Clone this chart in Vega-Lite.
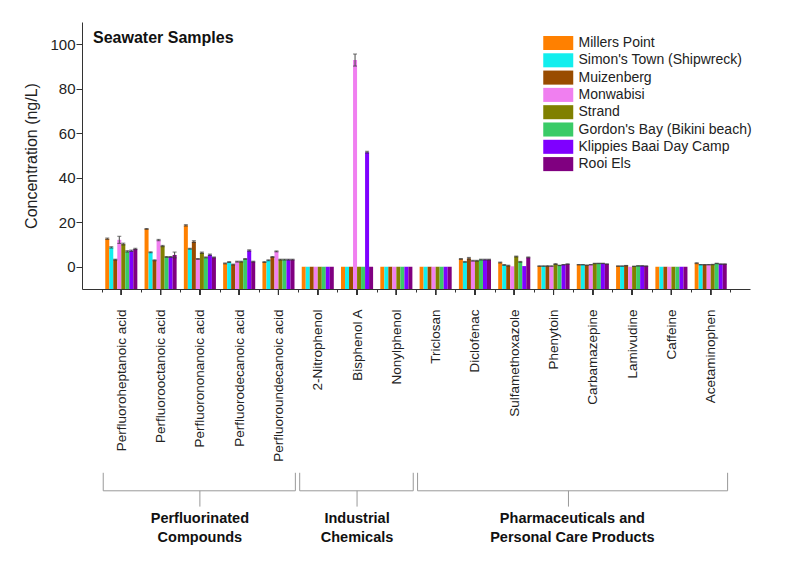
{
  "$schema": "https://vega.github.io/schema/vega-lite/v6.json",
  "width": 668,
  "height": 267,
  "autosize": {"type": "none"},
  "padding": {"left": 82, "top": 22, "right": 50, "bottom": 272},
  "background": "white",
  "config": {
    "view": {"stroke": null},
    "font": "Liberation Sans",
    "axis": {"grid": false, "domainColor": "#333", "tickColor": "#333", "labelColor": "#222", "titleColor": "#222", "labelFont": "Liberation Sans", "titleFont": "Liberation Sans"}
  },
  "title": {
    "text": "Seawater Samples",
    "anchor": "start",
    "frame": "group",
    "orient": "top",
    "offset": 0,
    "dx": 11,
    "dy": 37,
    "baseline": "alphabetic",
    "fontSize": 16,
    "fontWeight": "bold",
    "font": "Liberation Sans",
    "color": "#111"
  },
  "datasets": {
    "conc": [
      {"compound": "Perfluoroheptanoic acid", "site": "Millers Point", "value": 12.6, "err": 0.3},
      {"compound": "Perfluoroheptanoic acid", "site": "Simon's Town (Shipwreck)", "value": 8.7, "err": 0.3},
      {"compound": "Perfluoroheptanoic acid", "site": "Muizenberg", "value": 3.2, "err": 0.2},
      {"compound": "Perfluoroheptanoic acid", "site": "Monwabisi", "value": 12.1, "err": 1.6},
      {"compound": "Perfluoroheptanoic acid", "site": "Strand", "value": 10.2, "err": 0.4},
      {"compound": "Perfluoroheptanoic acid", "site": "Gordon's Bay (Bikini beach)", "value": 6.9, "err": 0.3},
      {"compound": "Perfluoroheptanoic acid", "site": "Klippies Baai Day Camp", "value": 7.2, "err": 0.3},
      {"compound": "Perfluoroheptanoic acid", "site": "Rooi Els", "value": 8.0, "err": 0.3},
      {"compound": "Perfluorooctanoic acid", "site": "Millers Point", "value": 17.0, "err": 0.2},
      {"compound": "Perfluorooctanoic acid", "site": "Simon's Town (Shipwreck)", "value": 6.5, "err": 0.2},
      {"compound": "Perfluorooctanoic acid", "site": "Muizenberg", "value": 2.9, "err": 0.2},
      {"compound": "Perfluorooctanoic acid", "site": "Monwabisi", "value": 12.0, "err": 0.3},
      {"compound": "Perfluorooctanoic acid", "site": "Strand", "value": 9.3, "err": 0.3},
      {"compound": "Perfluorooctanoic acid", "site": "Gordon's Bay (Bikini beach)", "value": 4.4, "err": 0.2},
      {"compound": "Perfluorooctanoic acid", "site": "Klippies Baai Day Camp", "value": 4.4, "err": 0.2},
      {"compound": "Perfluorooctanoic acid", "site": "Rooi Els", "value": 5.3, "err": 1.3},
      {"compound": "Perfluorononanoic acid", "site": "Millers Point", "value": 18.6, "err": 0.3},
      {"compound": "Perfluorononanoic acid", "site": "Simon's Town (Shipwreck)", "value": 8.1, "err": 0.2},
      {"compound": "Perfluorononanoic acid", "site": "Muizenberg", "value": 11.3, "err": 0.4},
      {"compound": "Perfluorononanoic acid", "site": "Monwabisi", "value": 3.5, "err": 0.2},
      {"compound": "Perfluorononanoic acid", "site": "Strand", "value": 6.3, "err": 0.3},
      {"compound": "Perfluorononanoic acid", "site": "Gordon's Bay (Bikini beach)", "value": 4.2, "err": 0.2},
      {"compound": "Perfluorononanoic acid", "site": "Klippies Baai Day Camp", "value": 5.4, "err": 0.3},
      {"compound": "Perfluorononanoic acid", "site": "Rooi Els", "value": 4.2, "err": 0.2},
      {"compound": "Perfluorodecanoic acid", "site": "Millers Point", "value": 1.5, "err": 0.2},
      {"compound": "Perfluorodecanoic acid", "site": "Simon's Town (Shipwreck)", "value": 2.1, "err": 0.2},
      {"compound": "Perfluorodecanoic acid", "site": "Muizenberg", "value": 1.0, "err": 0.2},
      {"compound": "Perfluorodecanoic acid", "site": "Monwabisi", "value": 2.3, "err": 0.2},
      {"compound": "Perfluorodecanoic acid", "site": "Strand", "value": 2.3, "err": 0.2},
      {"compound": "Perfluorodecanoic acid", "site": "Gordon's Bay (Bikini beach)", "value": 3.5, "err": 0.2},
      {"compound": "Perfluorodecanoic acid", "site": "Klippies Baai Day Camp", "value": 7.3, "err": 0.3},
      {"compound": "Perfluorodecanoic acid", "site": "Rooi Els", "value": 2.3, "err": 0.2},
      {"compound": "Perfluoroundecanoic acid", "site": "Millers Point", "value": 2.1, "err": 0.2},
      {"compound": "Perfluoroundecanoic acid", "site": "Simon's Town (Shipwreck)", "value": 2.9, "err": 0.2},
      {"compound": "Perfluoroundecanoic acid", "site": "Muizenberg", "value": 4.4, "err": 0.2},
      {"compound": "Perfluoroundecanoic acid", "site": "Monwabisi", "value": 6.9, "err": 0.2},
      {"compound": "Perfluoroundecanoic acid", "site": "Strand", "value": 3.2, "err": 0.2},
      {"compound": "Perfluoroundecanoic acid", "site": "Gordon's Bay (Bikini beach)", "value": 3.2, "err": 0.2},
      {"compound": "Perfluoroundecanoic acid", "site": "Klippies Baai Day Camp", "value": 3.2, "err": 0.2},
      {"compound": "Perfluoroundecanoic acid", "site": "Rooi Els", "value": 3.2, "err": 0.2},
      {"compound": "2-Nitrophenol", "site": "Millers Point", "value": 0, "err": 0},
      {"compound": "2-Nitrophenol", "site": "Simon's Town (Shipwreck)", "value": 0, "err": 0},
      {"compound": "2-Nitrophenol", "site": "Muizenberg", "value": 0, "err": 0},
      {"compound": "2-Nitrophenol", "site": "Monwabisi", "value": 0, "err": 0},
      {"compound": "2-Nitrophenol", "site": "Strand", "value": 0, "err": 0},
      {"compound": "2-Nitrophenol", "site": "Gordon's Bay (Bikini beach)", "value": 0, "err": 0},
      {"compound": "2-Nitrophenol", "site": "Klippies Baai Day Camp", "value": 0, "err": 0},
      {"compound": "2-Nitrophenol", "site": "Rooi Els", "value": 0, "err": 0},
      {"compound": "Bisphenol A", "site": "Millers Point", "value": 0, "err": 0},
      {"compound": "Bisphenol A", "site": "Simon's Town (Shipwreck)", "value": 0, "err": 0},
      {"compound": "Bisphenol A", "site": "Muizenberg", "value": 0, "err": 0},
      {"compound": "Bisphenol A", "site": "Monwabisi", "value": 92.9, "err": 2.7},
      {"compound": "Bisphenol A", "site": "Strand", "value": 0, "err": 0},
      {"compound": "Bisphenol A", "site": "Gordon's Bay (Bikini beach)", "value": 0, "err": 0},
      {"compound": "Bisphenol A", "site": "Klippies Baai Day Camp", "value": 51.5, "err": 0.4},
      {"compound": "Bisphenol A", "site": "Rooi Els", "value": 0, "err": 0},
      {"compound": "Nonylphenol", "site": "Millers Point", "value": 0, "err": 0},
      {"compound": "Nonylphenol", "site": "Simon's Town (Shipwreck)", "value": 0, "err": 0},
      {"compound": "Nonylphenol", "site": "Muizenberg", "value": 0, "err": 0},
      {"compound": "Nonylphenol", "site": "Monwabisi", "value": 0, "err": 0},
      {"compound": "Nonylphenol", "site": "Strand", "value": 0, "err": 0},
      {"compound": "Nonylphenol", "site": "Gordon's Bay (Bikini beach)", "value": 0, "err": 0},
      {"compound": "Nonylphenol", "site": "Klippies Baai Day Camp", "value": 0, "err": 0},
      {"compound": "Nonylphenol", "site": "Rooi Els", "value": 0, "err": 0},
      {"compound": "Triclosan", "site": "Millers Point", "value": 0, "err": 0},
      {"compound": "Triclosan", "site": "Simon's Town (Shipwreck)", "value": 0, "err": 0},
      {"compound": "Triclosan", "site": "Muizenberg", "value": 0, "err": 0},
      {"compound": "Triclosan", "site": "Monwabisi", "value": 0, "err": 0},
      {"compound": "Triclosan", "site": "Strand", "value": 0, "err": 0},
      {"compound": "Triclosan", "site": "Gordon's Bay (Bikini beach)", "value": 0, "err": 0},
      {"compound": "Triclosan", "site": "Klippies Baai Day Camp", "value": 0, "err": 0},
      {"compound": "Triclosan", "site": "Rooi Els", "value": 0, "err": 0},
      {"compound": "Diclofenac", "site": "Millers Point", "value": 3.5, "err": 0.2},
      {"compound": "Diclofenac", "site": "Simon's Town (Shipwreck)", "value": 2.2, "err": 0.2},
      {"compound": "Diclofenac", "site": "Muizenberg", "value": 3.8, "err": 0.4},
      {"compound": "Diclofenac", "site": "Monwabisi", "value": 2.7, "err": 0.2},
      {"compound": "Diclofenac", "site": "Strand", "value": 2.7, "err": 0.2},
      {"compound": "Diclofenac", "site": "Gordon's Bay (Bikini beach)", "value": 3.2, "err": 0.2},
      {"compound": "Diclofenac", "site": "Klippies Baai Day Camp", "value": 3.2, "err": 0.2},
      {"compound": "Diclofenac", "site": "Rooi Els", "value": 3.2, "err": 0.2},
      {"compound": "Sulfamethoxazole", "site": "Millers Point", "value": 1.9, "err": 0.2},
      {"compound": "Sulfamethoxazole", "site": "Simon's Town (Shipwreck)", "value": 0.8, "err": 0.2},
      {"compound": "Sulfamethoxazole", "site": "Muizenberg", "value": 0.5, "err": 0.2},
      {"compound": "Sulfamethoxazole", "site": "Monwabisi", "value": 0.2, "err": 0},
      {"compound": "Sulfamethoxazole", "site": "Strand", "value": 4.6, "err": 0.2},
      {"compound": "Sulfamethoxazole", "site": "Gordon's Bay (Bikini beach)", "value": 2.2, "err": 0.2},
      {"compound": "Sulfamethoxazole", "site": "Klippies Baai Day Camp", "value": 0.3, "err": 0},
      {"compound": "Sulfamethoxazole", "site": "Rooi Els", "value": 4.2, "err": 0.2},
      {"compound": "Phenytoin", "site": "Millers Point", "value": 0.3, "err": 0.1},
      {"compound": "Phenytoin", "site": "Simon's Town (Shipwreck)", "value": 0.3, "err": 0.1},
      {"compound": "Phenytoin", "site": "Muizenberg", "value": 0.3, "err": 0.2},
      {"compound": "Phenytoin", "site": "Monwabisi", "value": 0.3, "err": 0.1},
      {"compound": "Phenytoin", "site": "Strand", "value": 1.2, "err": 0.2},
      {"compound": "Phenytoin", "site": "Gordon's Bay (Bikini beach)", "value": 0.6, "err": 0.1},
      {"compound": "Phenytoin", "site": "Klippies Baai Day Camp", "value": 0.9, "err": 0.1},
      {"compound": "Phenytoin", "site": "Rooi Els", "value": 1.2, "err": 0.1},
      {"compound": "Carbamazepine", "site": "Millers Point", "value": 0.9, "err": 0.1},
      {"compound": "Carbamazepine", "site": "Simon's Town (Shipwreck)", "value": 0.9, "err": 0.1},
      {"compound": "Carbamazepine", "site": "Muizenberg", "value": 0.7, "err": 0.1},
      {"compound": "Carbamazepine", "site": "Monwabisi", "value": 0.9, "err": 0.1},
      {"compound": "Carbamazepine", "site": "Strand", "value": 1.5, "err": 0.1},
      {"compound": "Carbamazepine", "site": "Gordon's Bay (Bikini beach)", "value": 1.5, "err": 0.1},
      {"compound": "Carbamazepine", "site": "Klippies Baai Day Camp", "value": 1.5, "err": 0.1},
      {"compound": "Carbamazepine", "site": "Rooi Els", "value": 1.2, "err": 0.1},
      {"compound": "Lamivudine", "site": "Millers Point", "value": 0.3, "err": 0.1},
      {"compound": "Lamivudine", "site": "Simon's Town (Shipwreck)", "value": 0.3, "err": 0.1},
      {"compound": "Lamivudine", "site": "Muizenberg", "value": 0.5, "err": 0.1},
      {"compound": "Lamivudine", "site": "Monwabisi", "value": 0, "err": 0},
      {"compound": "Lamivudine", "site": "Strand", "value": 0.2, "err": 0.1},
      {"compound": "Lamivudine", "site": "Gordon's Bay (Bikini beach)", "value": 0.4, "err": 0.1},
      {"compound": "Lamivudine", "site": "Klippies Baai Day Camp", "value": 0.4, "err": 0.1},
      {"compound": "Lamivudine", "site": "Rooi Els", "value": 0.3, "err": 0.1},
      {"compound": "Caffeine", "site": "Millers Point", "value": 0, "err": 0},
      {"compound": "Caffeine", "site": "Simon's Town (Shipwreck)", "value": 0, "err": 0},
      {"compound": "Caffeine", "site": "Muizenberg", "value": 0, "err": 0},
      {"compound": "Caffeine", "site": "Monwabisi", "value": 0, "err": 0},
      {"compound": "Caffeine", "site": "Strand", "value": 0, "err": 0},
      {"compound": "Caffeine", "site": "Gordon's Bay (Bikini beach)", "value": 0, "err": 0},
      {"compound": "Caffeine", "site": "Klippies Baai Day Camp", "value": 0, "err": 0},
      {"compound": "Caffeine", "site": "Rooi Els", "value": 0, "err": 0},
      {"compound": "Acetaminophen", "site": "Millers Point", "value": 1.6, "err": 0.2},
      {"compound": "Acetaminophen", "site": "Simon's Town (Shipwreck)", "value": 0.9, "err": 0.1},
      {"compound": "Acetaminophen", "site": "Muizenberg", "value": 0.9, "err": 0.1},
      {"compound": "Acetaminophen", "site": "Monwabisi", "value": 0.9, "err": 0.1},
      {"compound": "Acetaminophen", "site": "Strand", "value": 1.0, "err": 0.1},
      {"compound": "Acetaminophen", "site": "Gordon's Bay (Bikini beach)", "value": 1.5, "err": 0.1},
      {"compound": "Acetaminophen", "site": "Klippies Baai Day Camp", "value": 1.2, "err": 0.1},
      {"compound": "Acetaminophen", "site": "Rooi Els", "value": 1.2, "err": 0.1}
    ],
    "groups": [
      {"label": "Perfluorinated\nCompounds", "first": "Perfluoroheptanoic acid", "last": "Perfluoroundecanoic acid", "centre": "Perfluorononanoic acid"},
      {"label": "Industrial\nChemicals", "first": "2-Nitrophenol", "last": "Nonylphenol", "centre": "Bisphenol A"},
      {"label": "Pharmaceuticals and\nPersonal Care Products", "first": "Triclosan", "last": "Acetaminophen", "centre": "Phenytoin"}
    ]
  },
  "data": {"name": "conc"},
  "layer": [
    {
      "mark": {"type": "bar"},
      "encoding": {
        "x": {
          "field": "compound",
          "type": "nominal",
          "title": null,
          "scale": {
            "domain": ["Perfluoroheptanoic acid", "Perfluorooctanoic acid", "Perfluorononanoic acid", "Perfluorodecanoic acid", "Perfluoroundecanoic acid", "2-Nitrophenol", "Bisphenol A", "Nonylphenol", "Triclosan", "Diclofenac", "Sulfamethoxazole", "Phenytoin", "Carbamazepine", "Lamivudine", "Caffeine", "Acetaminophen"],
            "paddingInner": 0,
            "paddingOuter": 0.5
          },
          "axis": {
            "labelAngle": -90,
            "labelAlign": "right",
            "labelBaseline": "middle",
            "labelFontSize": 13.5,
            "labelPadding": 17,
            "tickBand": "extent",
            "tickSize": 3
          }
        },
        "xOffset": {
          "field": "site",
          "type": "nominal",
          "scale": {
            "domain": ["Millers Point", "Simon's Town (Shipwreck)", "Muizenberg", "Monwabisi", "Strand", "Gordon's Bay (Bikini beach)", "Klippies Baai Day Camp", "Rooi Els"],
            "paddingInner": 0,
            "paddingOuter": 0.9
          }
        },
        "y": {
          "field": "value",
          "type": "quantitative",
          "title": "Concentration (ng/L)",
          "scale": {"domain": [-10, 110], "nice": false, "zero": false},
          "axis": {
            "values": [0, 10, 20, 30, 40, 50, 60, 70, 80, 90, 100],
            "labelExpr": "datum.value % 20 == 0 ? datum.label : ''",
            "tickSize": {"condition": {"test": "datum.value % 20 != 0", "value": 3}, "value": 6},
            "labelFontSize": 15,
            "labelPadding": 1,
            "labelOverlap": false,
            "titleFontSize": 16,
            "titleFontWeight": "normal",
            "titlePadding": 10
          }
        },
        "y2": {"datum": -10},
        "color": {
          "field": "site",
          "type": "nominal",
          "scale": {
            "domain": ["Millers Point", "Simon's Town (Shipwreck)", "Muizenberg", "Monwabisi", "Strand", "Gordon's Bay (Bikini beach)", "Klippies Baai Day Camp", "Rooi Els"],
            "range": ["#ff8000", "#11eeee", "#994c00", "#f07ff0", "#808000", "#3acb67", "#7f00ff", "#800080"]
          },
          "legend": {
            "orient": "none",
            "legendX": 468.75,
            "legendY": 13.5,
            "title": null,
            "padding": 0,
            "symbolType": "M-2.07,-0.97H2.07V0.97H-2.07Z",
            "symbolSize": 210,
            "symbolStrokeWidth": 0,
            "symbolOpacity": 1,
            "labelFont": "Liberation Sans",
            "labelFontSize": 14,
            "labelColor": "#222",
            "labelOffset": 12.75,
            "labelLimit": 0,
            "rowPadding": 2.3
          }
        }
      }
    },
    {
      "transform": [{"filter": "datum.err > 0"}],
      "mark": {"type": "errorbar", "color": "#444", "ticks": {"size": 4, "color": "#333"}},
      "encoding": {
        "x": {"field": "compound", "type": "nominal", "title": null},
        "xOffset": {"field": "site", "type": "nominal"},
        "y": {"field": "value", "type": "quantitative", "title": "Concentration (ng/L)"},
        "yError": {"field": "err"}
      }
    },
    {
      "mark": {"type": "rule", "color": "#333"},
      "encoding": {
        "x": {"field": "compound", "type": "nominal", "title": null},
        "y": {"datum": -10},
        "y2": {"datum": -12.7}
      }
    },
    {
      "data": {"name": "groups"},
      "mark": {"type": "rule", "color": "#999"},
      "encoding": {
        "x": {"field": "first", "type": "nominal", "bandPosition": 0.04, "title": null},
        "y": {"datum": -92.6},
        "y2": {"datum": -100.7}
      }
    },
    {
      "data": {"name": "groups"},
      "mark": {"type": "rule", "color": "#999"},
      "encoding": {
        "x": {"field": "last", "type": "nominal", "bandPosition": 0.93, "title": null},
        "y": {"datum": -92.6},
        "y2": {"datum": -100.7}
      }
    },
    {
      "data": {"name": "groups"},
      "mark": {"type": "rule", "color": "#999"},
      "encoding": {
        "x": {"field": "first", "type": "nominal", "bandPosition": 0.04, "title": null},
        "x2": {"field": "last", "bandPosition": 0.93},
        "y": {"datum": -100.7}
      }
    },
    {
      "data": {"name": "groups"},
      "transform": [{"filter": "datum.centre != 'Phenytoin'"}],
      "mark": {"type": "rule", "color": "#999"},
      "encoding": {
        "x": {"field": "centre", "type": "nominal", "bandPosition": 0.5, "title": null},
        "y": {"datum": -100.7},
        "y2": {"datum": -107.8}
      }
    },
    {
      "data": {"name": "groups"},
      "transform": [{"filter": "datum.centre == 'Phenytoin'"}],
      "mark": {"type": "rule", "color": "#999"},
      "encoding": {
        "x": {"field": "centre", "type": "nominal", "bandPosition": 0.88, "title": null},
        "y": {"datum": -100.7},
        "y2": {"datum": -107.8}
      }
    },
    {
      "data": {"name": "groups"},
      "transform": [{"filter": "datum.centre != 'Phenytoin'"}],
      "mark": {"type": "text", "align": "center", "baseline": "top", "lineBreak": "\n", "lineHeight": 19, "fontSize": 14.5, "fontWeight": "bold", "font": "Liberation Sans", "color": "#111"},
      "encoding": {
        "x": {"field": "centre", "type": "nominal", "bandPosition": 0.5, "title": null},
        "y": {"datum": -110},
        "text": {"field": "label"}
      }
    },
    {
      "data": {"name": "groups"},
      "transform": [{"filter": "datum.centre == 'Phenytoin'"}],
      "mark": {"type": "text", "align": "center", "baseline": "top", "lineBreak": "\n", "lineHeight": 19, "fontSize": 14.5, "fontWeight": "bold", "font": "Liberation Sans", "color": "#111"},
      "encoding": {
        "x": {"field": "centre", "type": "nominal", "bandPosition": 0.98, "title": null},
        "y": {"datum": -110},
        "text": {"field": "label"}
      }
    }
  ]
}
